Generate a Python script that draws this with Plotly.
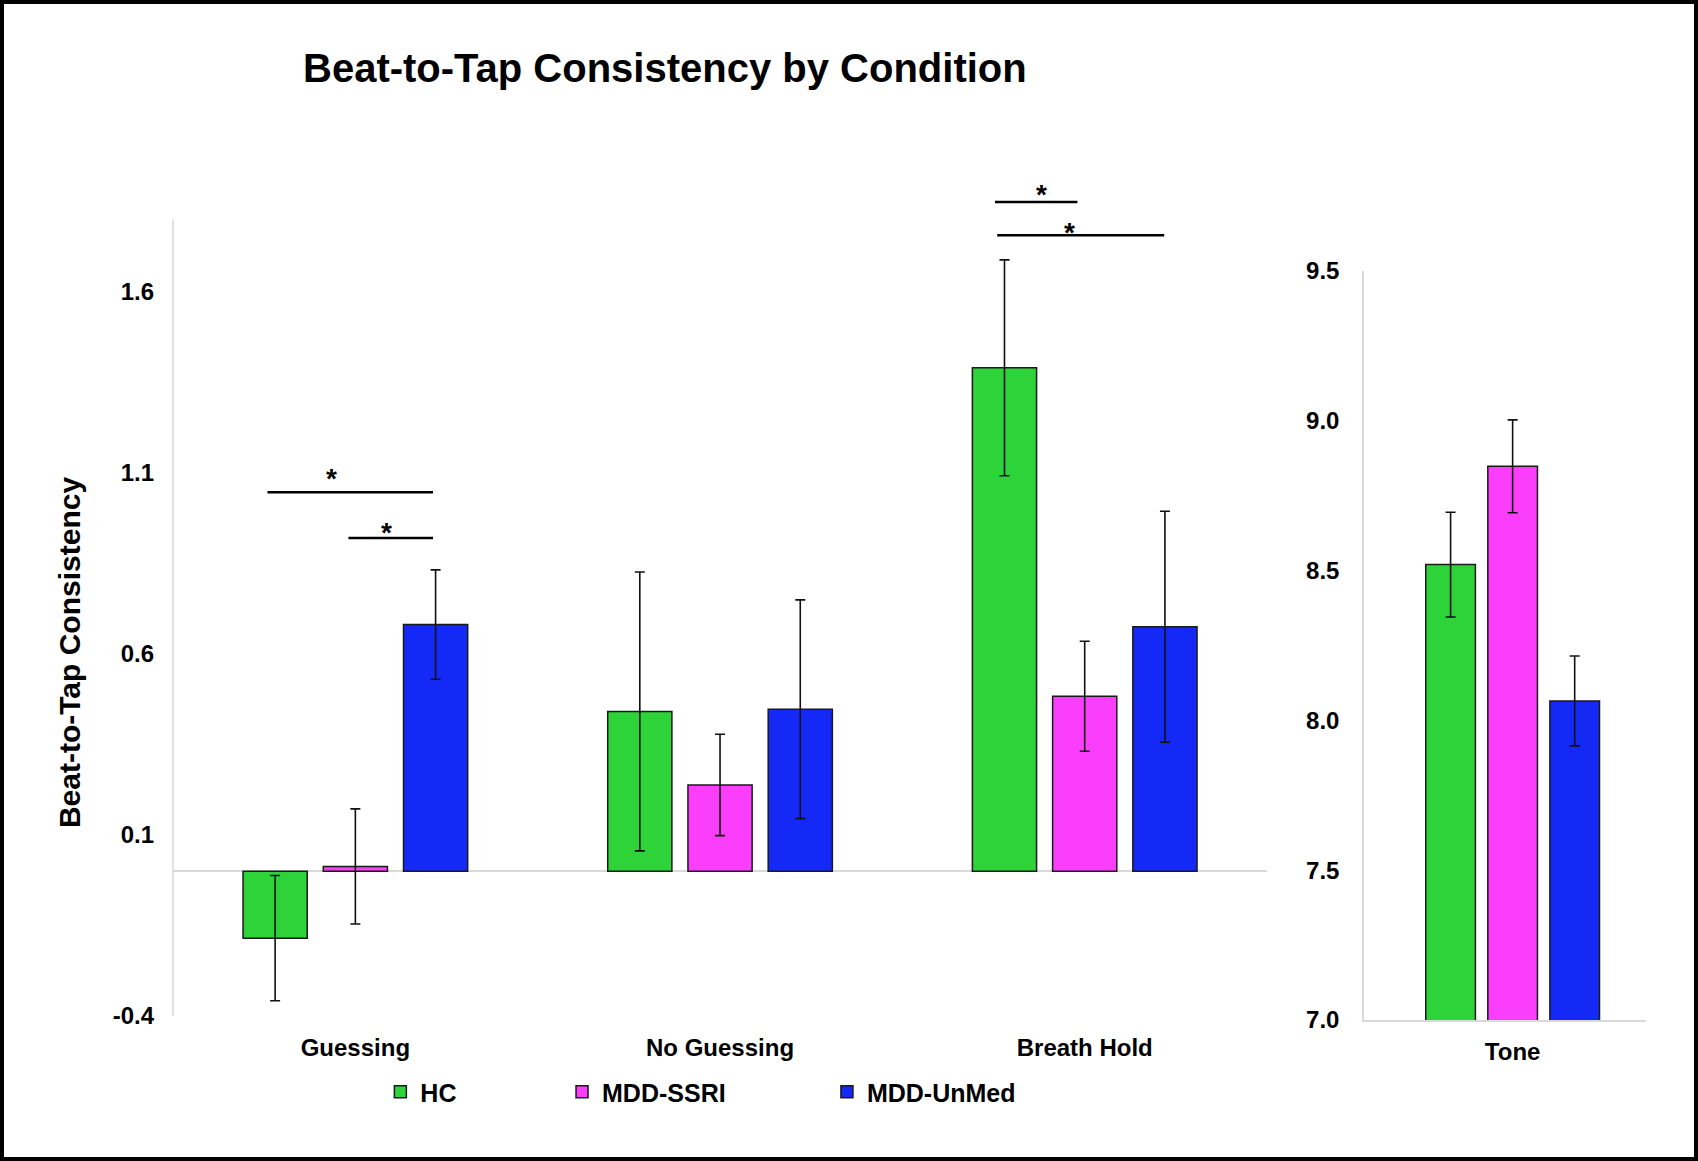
import plotly.graph_objects as go

# ---------------- data ----------------
groups = ["HC", "MDD-SSRI", "MDD-UnMed"]
conditions = ["Guessing", "No Guessing", "Breath Hold"]
tone_cat = ["Tone"]

hc_vals = [-0.185, 0.441, 1.390]
hc_err = [0.173, 0.385, 0.298]
ssri_vals = [0.013, 0.238, 0.483]
ssri_err = [0.159, 0.140, 0.152]
unmed_vals = [0.681, 0.447, 0.675]
unmed_err = [0.151, 0.302, 0.319]

tone_vals = [8.52, 8.848, 8.065]
tone_err = [0.175, 0.155, 0.150]

left_ticks = [-0.4, 0.1, 0.6, 1.1, 1.6]
left_tick_text = ["-0.4", "0.1", "0.6", "1.1", "1.6"]
right_ticks = [7.0, 7.5, 8.0, 8.5, 9.0, 9.5]
right_tick_text = ["7.0", "7.5", "8.0", "8.5", "9.0", "9.5"]

# significance brackets: (x0, x1, y, star_x, star_y) in category units / data units
sig_left = [
    (-0.241, 0.213, 1.046, -0.066, 1.106),
    (-0.019, 0.213, 0.920, 0.085, 0.956),
    (1.754, 1.980, 1.848, 1.882, 1.890),
    (1.760, 2.218, 1.756, 1.959, 1.786),
]

colors = ["#2ED33A", "#FB3EFB", "#1429F6"]
FONT = "Liberation Sans"

fig = go.Figure()

left_series = [(hc_vals, hc_err), (ssri_vals, ssri_err), (unmed_vals, unmed_err)]
legend_ids = ["legend", "legend2", "legend3"]
for i, (g, (vals, errs)) in enumerate(zip(groups, left_series)):
    fig.add_trace(go.Bar(
        x=conditions, y=vals, name=g,
        marker=dict(color=colors[i], line=dict(color="#1a1a1a", width=1.5)),
        error_y=dict(type="data", array=errs, color="#111", thickness=1.6, width=5),
        xaxis="x", yaxis="y", legend=legend_ids[i], showlegend=True,
    ))

for i, g in enumerate(groups):
    fig.add_trace(go.Bar(
        x=tone_cat, y=[tone_vals[i]], name=g,
        marker=dict(color=colors[i], line=dict(color="#1a1a1a", width=1.5)),
        error_y=dict(type="data", array=[tone_err[i]], color="#111", thickness=1.6, width=5),
        xaxis="x2", yaxis="y2", showlegend=False,
    ))

LEFT_TOP = 1.95
axis_gray = "#d9d9d9"
tickfont = dict(family=FONT, size=24, color="#000", weight="bold")

fig.update_layout(
    width=1698, height=1161,
    margin=dict(l=0, r=0, t=0, b=0),
    paper_bgcolor="white", plot_bgcolor="white",
    barmode="group", bargap=0.34, bargroupgap=0.2,
    font=dict(family=FONT, color="#000"),
    xaxis=dict(domain=[0.1019, 0.7462], showline=False, showgrid=False, zeroline=False,
               ticks="", tickfont=tickfont, ticklabelstandoff=15, automargin=False),
    yaxis=dict(domain=[0.1249, 0.8579], range=[-0.4, LEFT_TOP], tickvals=left_ticks,
               ticktext=left_tick_text, showgrid=False, showline=False, zeroline=True,
               zerolinecolor=axis_gray, zerolinewidth=1.5, ticks="",
               tickfont=tickfont, ticklabelstandoff=18, automargin=False),
    xaxis2=dict(domain=[0.8033, 0.9694], anchor="y2", range=[-0.527, 0.473],
                showline=True, linecolor=axis_gray,
                linewidth=1.5, showgrid=False, ticks="", tickfont=tickfont,
                ticklabelstandoff=9, automargin=False),
    yaxis2=dict(domain=[0.1214, 0.7666], anchor="x2", range=[7.0, 9.5], tickvals=right_ticks,
                ticktext=right_tick_text, showgrid=False, showline=True, linecolor=axis_gray,
                linewidth=1.5, zeroline=False, ticks="", tickfont=tickfont,
                ticklabelstandoff=18, automargin=False),
    showlegend=True,
)

legfont = dict(family=FONT, size=25, color="#000", weight="bold")
for lid, xpos in zip(legend_ids, [0.2240, 0.3310, 0.4870]):
    fig.update_layout({lid: dict(x=xpos, y=0.0594, xanchor="left", yanchor="middle",
                                 orientation="h", font=legfont, bgcolor="rgba(0,0,0,0)",
                                 itemwidth=30)})

# left y-axis line (stops near 1.8)
fig.add_shape(type="line", xref="x domain", yref="y domain", x0=0, x1=0, y0=0,
              y1=(1.8 + 0.4) / (LEFT_TOP + 0.4), line=dict(color=axis_gray, width=1.5))

# significance brackets
for x0, x1, yv, sx, sy in sig_left:
    fig.add_shape(type="line", xref="x", yref="y", x0=x0, x1=x1, y0=yv, y1=yv,
                  line=dict(color="#000", width=2.5))
    fig.add_annotation(x=sx, y=sy, xref="x", yref="y", text="<b>*</b>", showarrow=False,
                       xanchor="center", yanchor="middle",
                       font=dict(family=FONT, size=28, color="#000"), yshift=-8)

# title
fig.add_annotation(x=0.3916, y=0.9414, xref="paper", yref="paper", showarrow=False,
                   xanchor="center", yanchor="middle",
                   text="<b>Beat-to-Tap Consistency by Condition</b>",
                   font=dict(family=FONT, size=40, color="#000"))
# y-axis title
fig.add_annotation(x=0.0413, y=0.4376, xref="paper", yref="paper", showarrow=False,
                   xanchor="center", yanchor="middle",
                   text="<b>Beat-to-Tap Consistency</b>", textangle=-90,
                   font=dict(family=FONT, size=30, color="#000"))

# outer frame
fig.add_shape(type="rect", xref="paper", yref="paper", x0=0, x1=1, y0=0, y1=1,
              line=dict(color="#000", width=8))

fig.write_html("out.html", config={"displayModeBar": False},
               post_script="document.body.style.margin='0';document.body.style.overflow='hidden';")
